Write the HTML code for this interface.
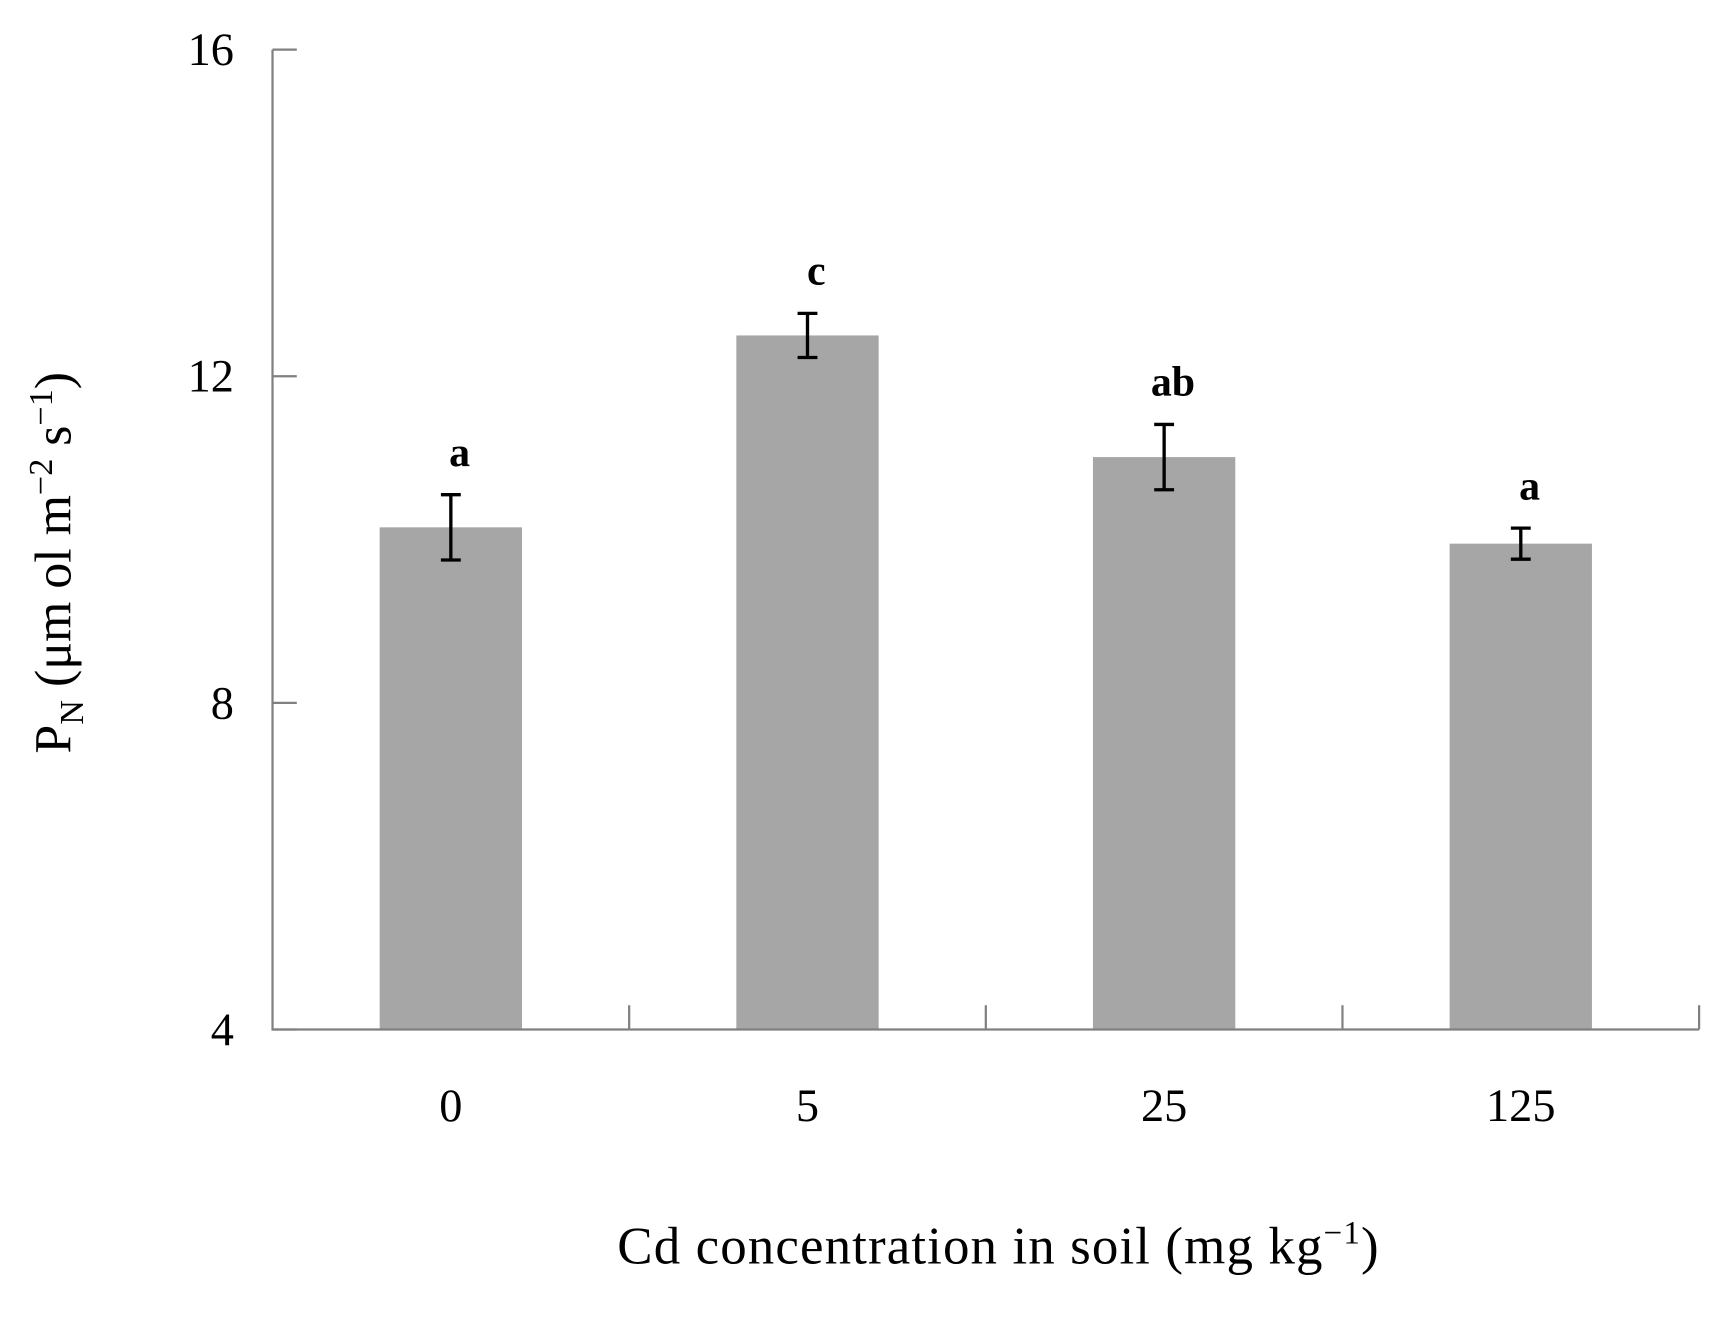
<!DOCTYPE html>
<html><head><meta charset="utf-8"><style>
html,body{margin:0;padding:0;background:#fff;}
svg{display:block;font-family:"Liberation Serif",serif;}
</style></head><body>
<svg id="chart" width="1730" height="1323" viewBox="0 0 1568 1199" preserveAspectRatio="none" xmlns="http://www.w3.org/2000/svg"></svg>
<script>
const categories = ["0","5","25","125"];
const values = [10.15, 12.5, 11.01, 9.95];
const errors = [0.4, 0.27, 0.4, 0.19];
const letters = ["a","c","ab","a"];
const yTicks = [4, 8, 12, 16];

const svg = document.getElementById('chart');
const NS = 'http://www.w3.org/2000/svg';
const L = 247, R = 1540, T = 45, B = 933, yMin = 4, yMax = 16;
const band = (R - L) / categories.length;
const y = v => B - (v - yMin) / (yMax - yMin) * (B - T);
const xc = i => L + (i + 0.5) * band;
function mk(tag, attrs, text) {
  const e = document.createElementNS(NS, tag);
  for (const k in attrs) e.setAttribute(k, attrs[k]);
  if (text !== undefined) e.textContent = text;
  svg.appendChild(e);
  return e;
}
const barW = 129;
categories.forEach((c, i) => {
  const b = mk('rect', {x: xc(i) - barW / 2, y: y(values[i]), width: barW, height: B - y(values[i]), fill: '#a6a6a6'});
  
  
  const cx = xc(i), hi = y(values[i] + errors[i]), lo = y(values[i] - errors[i]);
  const eb = mk('path', {d: `M${cx},${hi}V${lo}M${cx-9},${hi}H${cx+9}M${cx-9},${lo}H${cx+9}`, stroke: '#000', 'stroke-width': 3, fill: 'none'});
  
  
  const lt = mk('text', {x: cx + 8, y: hi - 26, 'text-anchor': 'middle', 'font-size': 38, 'font-weight': 'bold'}, letters[i]);
  
  
  const xl = mk('text', {x: cx, y: 1016, 'text-anchor': 'middle', 'font-size': 42}, c);
  
  
});
const ax = mk('path', {d: `M${L},${T}V${B}H${R}`, stroke: '#808080', 'stroke-width': 2, fill: 'none'});


yTicks.forEach(t => {
  const tk = mk('path', {d: `M${L},${y(t)}H${L+22}`, stroke: '#808080', 'stroke-width': 2});
  
  
  const tl = mk('text', {x: 212, y: y(t) + 14, 'text-anchor': 'end', 'font-size': 42}, String(t));
  
  
});
for (let i = 1; i <= categories.length; i++) {
  const xt = L + i * band;
  const tk = mk('path', {d: `M${xt},${B}V${B-22}`, stroke: '#808080', 'stroke-width': 2});
  
  
}
</script>
<svg style="position:absolute;left:0;top:0" width="1730" height="1323" viewBox="0 0 1568 1199" preserveAspectRatio="none" xmlns="http://www.w3.org/2000/svg" font-family="Liberation Serif, serif">
<text x="905" y="1145" text-anchor="middle" font-size="48" letter-spacing="1">Cd concentration in soil  (mg kg<tspan dy="-18" font-size="30">−1</tspan><tspan dy="18">)</tspan></text>
<text transform="translate(64,510) rotate(-90)" text-anchor="middle" font-size="47">P<tspan dy="11" font-size="31">N</tspan><tspan dy="-11"> (μm ol m</tspan><tspan dy="-17" font-size="31">−2</tspan><tspan dy="17"> s</tspan><tspan dy="-17" font-size="31">−1</tspan><tspan dy="17">)</tspan></text>
</svg>
</body></html>
